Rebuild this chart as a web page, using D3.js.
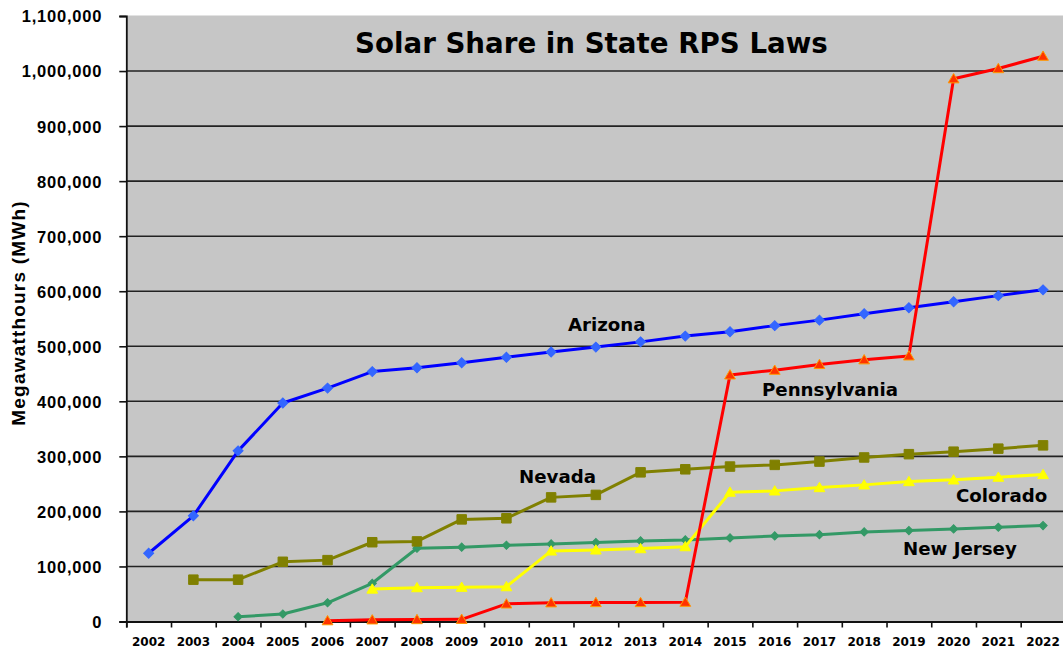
<!DOCTYPE html>
<html>
<head>
<meta charset="utf-8">
<script src="https://cdn.jsdelivr.net/npm/d3@7"></script>
<style>
  html, body { margin: 0; padding: 0; background: #ffffff; }
  svg { display: block; }
</style>
</head>
<body>
<svg id="chart" width="1063" height="651"></svg>
<script>
const years = ["2002","2003","2004","2005","2006","2007","2008","2009","2010","2011","2012","2013","2014","2015","2016","2017","2018","2019","2020","2021","2022"];
const yTicks = [0,100000,200000,300000,400000,500000,600000,700000,800000,900000,1000000,1100000];

const arizona = [124000,192000,310000,397000,424000,454000,461000,470000,480000,489500,498500,508000,518500,526500,537500,547500,559000,570000,581000,592000,602500];
const pennsylvania = [null,null,null,null,1500,3000,3500,4000,32000,34000,34500,34500,35000,448000,456500,467000,475500,482500,986000,1004500,1027000];
const nevada = [null,76000,76000,108500,111500,144000,145500,185500,187500,225500,230000,271000,276500,281500,284500,290500,298000,304000,308500,314000,320000];
const newJersey = [null,null,8700,13600,34000,69400,133000,135000,138500,141000,143300,146400,148200,151800,155500,157800,162700,165100,168200,171300,174200];
const colorado = [null,null,null,null,null,59000,61500,62200,63300,128200,130000,132400,136000,235000,237300,243300,248200,254200,257300,262200,267000];

const seriesNames = ["New Jersey","Nevada","Colorado","Arizona","Pennsylvania"];
const seriesValues = [newJersey, nevada, colorado, arizona, pennsylvania];
const seriesColors = ["#339966","#808000","#ffff00","#0000ff","#ff0000"];
const markerFill = ["#339966","#808000","#ffff00","#3366ff","#ff3300"];
const markerStroke = ["#339966","#808000","#ffff00","#3366ff","#ff9900"];
const markerType = ["diamondS","square","triangle","diamond","triangle"];

const labels = [
  {text:"Arizona", x:568, y:331},
  {text:"Pennsylvania", x:762, y:396},
  {text:"Nevada", x:519, y:483},
  {text:"Colorado", x:956, y:502},
  {text:"New Jersey", x:903, y:555}
];

const svg = d3.select("#chart");
const pLeft = 126.3, pRight = 1065.4, pTop = 16, pBottom = 621.5;

const x = d3.scaleBand().domain(years).range([pLeft, pRight]).padding(0);
const xb = d3.scaleLinear().domain([0, years.length]).range([pLeft, pRight]);
const y = d3.scaleLinear().domain([0, 1100000]).range([pBottom, pTop]);

// plot background
svg.append("rect").attr("x", pLeft).attr("y", pTop)
  .attr("width", pRight - pLeft).attr("height", pBottom - pTop)
  .attr("fill", "#c6c6c6");
svg.append("line").attr("x1", pLeft).attr("x2", pRight).attr("y1", pTop - 0.5).attr("y2", pTop - 0.5)
  .attr("stroke", "#e2e2e2").attr("stroke-width", 1);

// gridlines
svg.append("g").selectAll("line").data(yTicks.filter(d => d > 0 && d < 1100000)).join("line")
  .attr("x1", pLeft).attr("x2", pRight)
  .attr("y1", d => y(d)).attr("y2", d => y(d))
  .attr("stroke", "#222").attr("stroke-width", 1.6);

// y axis
const yAxis = svg.append("g").attr("transform", `translate(${pLeft},0)`)
  .call(d3.axisLeft(y).tickValues(yTicks).tickFormat(d3.format(",")).tickSize(7).tickPadding(17));
yAxis.select(".domain").attr("stroke", "#111").attr("stroke-width", 1.8);
yAxis.selectAll(".tick line").attr("stroke", "#111").attr("stroke-width", 1.6);
yAxis.selectAll(".tick text").attr("font-family", "Liberation Sans, Arial, sans-serif")
  .attr("font-weight", "bold").attr("font-size", "16.5px").attr("letter-spacing", "0.8px")
  .attr("fill", "#000").attr("dy", "0.36em");

// x axis: ticks at category boundaries
const xAxis = svg.append("g").attr("transform", `translate(0,${pBottom})`)
  .call(d3.axisBottom(xb).tickValues(d3.range(0, years.length + 1)).tickFormat("").tickSize(6));
xAxis.select(".domain").attr("stroke", "#111").attr("stroke-width", 1.8);
xAxis.selectAll(".tick line").attr("stroke", "#111").attr("stroke-width", 1.6);

svg.append("g").selectAll("text").data(years).join("text")
  .attr("x", d => x(d) + x.bandwidth() / 2).attr("y", 646)
  .attr("text-anchor", "middle")
  .attr("font-family", "DejaVu Sans, Verdana, sans-serif").attr("font-weight", "bold")
  .attr("font-size", "12px").attr("fill", "#000")
  .text(d => d);

// y axis title
svg.append("text")
  .attr("transform", "translate(25,313) rotate(-90)")
  .attr("text-anchor", "middle")
  .attr("font-family", "Liberation Sans, Arial, sans-serif").attr("font-weight", "bold")
  .attr("font-size", "19px").attr("letter-spacing", "1.2px").attr("fill", "#000")
  .text("Megawatthours (MWh)");

// title
svg.append("text").attr("x", 355).attr("y", 53)
  .attr("font-family", "DejaVu Sans, Verdana, sans-serif").attr("font-weight", "bold")
  .attr("font-size", "27.7px").attr("fill", "#000")
  .text("Solar Share in State RPS Laws");

// series
const line = d3.line().defined(d => d.v != null)
  .x(d => x(d.year) + x.bandwidth() / 2).y(d => y(d.v));

function symbolPath(type) {
  if (type === "square") return d3.symbol(d3.symbolSquare, 90)();
  if (type === "diamond") return d3.symbol(d3.symbolSquare, 50)();
  if (type === "diamondS") return d3.symbol(d3.symbolSquare, 34)();
  return d3.symbol(d3.symbolTriangle, 50)();
}

seriesValues.forEach((vals, i) => {
  const pts = years.map((yr, j) => ({year: yr, v: vals[j]}));
  const g = svg.append("g");
  g.append("path").datum(pts).attr("d", line)
    .attr("fill", "none").attr("stroke", seriesColors[i]).attr("stroke-width", 3)
    .attr("stroke-linejoin", "round");
  g.selectAll("path.m").data(pts.filter(d => d.v != null)).join("path")
    .attr("class", "m")
    .attr("d", symbolPath(markerType[i]))
    .attr("transform", d => {
      const cx = x(d.year) + x.bandwidth() / 2, cy = y(d.v);
      const rot = markerType[i].startsWith("diamond") ? " rotate(45)" : "";
      const dy = markerType[i] === "triangle" ? 1 : 0;
      return `translate(${cx},${cy + dy})${rot}`;
    })
    .attr("fill", markerFill[i]).attr("stroke", markerStroke[i]).attr("stroke-width", 1);
});

// annotations
svg.append("g").selectAll("text").data(labels).join("text")
  .attr("x", d => d.x).attr("y", d => d.y)
  .attr("font-family", "DejaVu Sans, Verdana, sans-serif").attr("font-weight", "bold")
  .attr("font-size", "18.2px").attr("fill", "#000")
  .text(d => d.text);
</script>
</body>
</html>
